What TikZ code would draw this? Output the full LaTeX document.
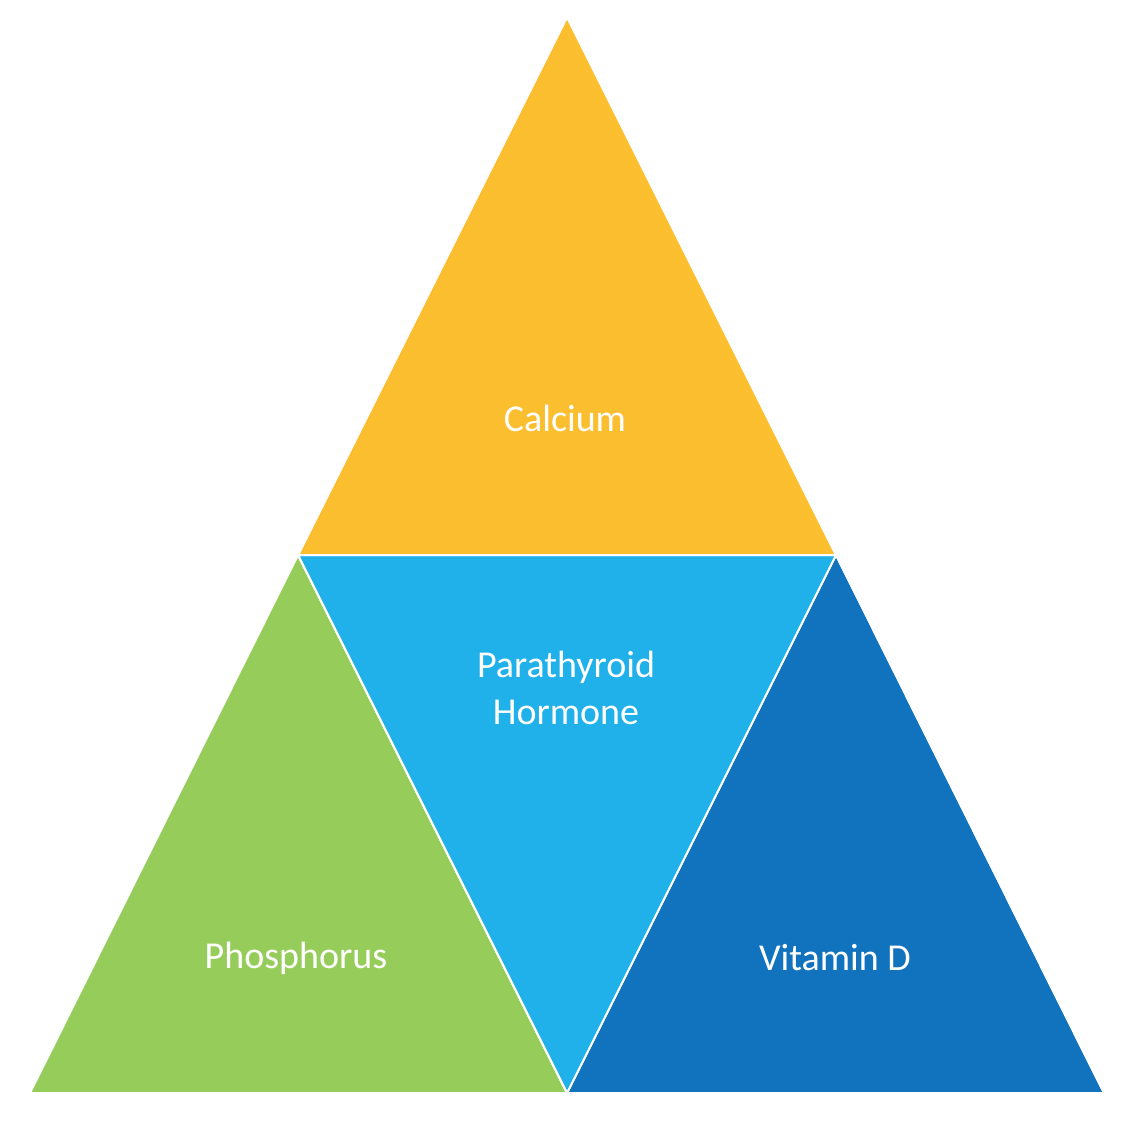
\documentclass[tikz,border=0pt]{standalone}
\usepackage{fontspec}
\setmainfont{Carlito}
\definecolor{calciumorange}{HTML}{FBBE2E}
\definecolor{phosgreen}{HTML}{96CD5A}
\definecolor{pthblue}{HTML}{20B0EA}
\definecolor{vitdblue}{HTML}{1172BE}
\tikzset{
  tri/.style={draw=white, line width=2pt, line join=miter},
  lbl/.style={text=white, align=center, font=\fontsize{38}{47}\selectfont, inner sep=0pt}
}
\begin{document}
\begin{tikzpicture}[x=1pt,y=-1pt]
\useasboundingbox (0,0) rectangle (1132,1120);
% corners
\coordinate (top) at (567,17);
\coordinate (ml) at (298,555);
\coordinate (mr) at (836,555);
\coordinate (bl) at (30,1093);
\coordinate (bm) at (567,1093);
\coordinate (br) at (1104,1093);
% triangles
\fill [tri, fill=calciumorange] (top) -- (mr) -- (ml) -- cycle;
\fill [tri, fill=phosgreen] (ml) -- (bm) -- (bl) -- cycle;
\fill [tri, fill=vitdblue] (mr) -- (br) -- (bm) -- cycle;
\filldraw [tri, fill=pthblue] (ml) -- (mr) -- (bm) -- cycle;
\draw [tri] (top) -- (mr) -- (ml) -- cycle;
\draw [tri] (ml) -- (bm) -- (bl);
\draw [tri] (mr) -- (br);
% labels
\node [lbl] (calcium) at (565,418) {Calcium};
\node [lbl] (pth) at (566,688) {Parathyroid\\Hormone};
\node [lbl] (phos) at (296,958) {Phosphorus};
\node [lbl] (vitd) at (835,958) {Vitamin D};
\end{tikzpicture}
\end{document}
